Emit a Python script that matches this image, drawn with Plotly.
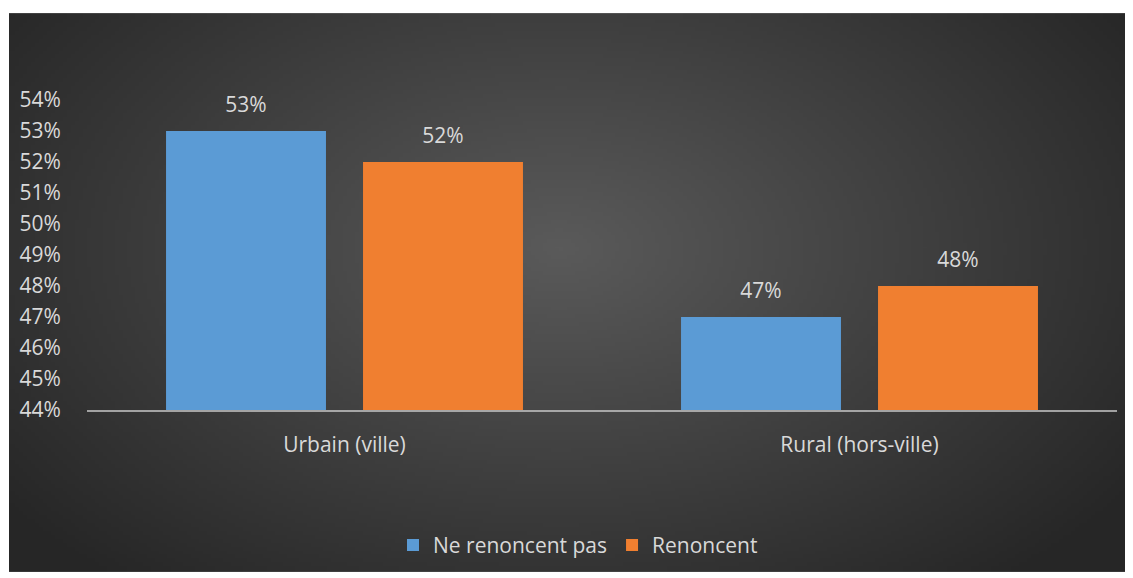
import base64, struct, zlib, math
import plotly.graph_objects as go

categories = ["Urbain (ville)", "Rural (hors-ville)"]
series_names = ["Ne renoncent pas", "Renoncent"]
ne_renoncent_pas = [53, 47]
renoncent = [52, 48]
tick_vals = [44, 45, 46, 47, 48, 49, 50, 51, 52, 53, 54]
tick_text = [f"{v}%" for v in tick_vals]
colors = ["#5b9bd5", "#f07f30"]

OFF = 8  # default page body margin
W, H = 1133 - OFF, 578 - OFF
# plot area in figure pixels
L, R, T, B = 87 - OFF, 1117 - OFF, 100 - OFF, 414 - OFF

# ---- background radial gradient as a PNG (pure python) ----
iw, ih = 281, 142
cx, cy = 0.49, 0.42
c_in, c_out = 0x5a, 0x26
rows = []
for j in range(ih):
    row = bytearray([0])
    for i in range(iw):
        dx = (i / (iw - 1) - cx) / 0.62
        dy = (j / (ih - 1) - cy) / 0.78
        d = min(1.0, math.sqrt(dx * dx + dy * dy))
        v = int(round(c_in + (c_out - c_in) * d))
        row += bytes([v, v, v])
    rows.append(bytes(row))
raw = b"".join(rows)
def chunk(t, d):
    c = struct.pack(">I", len(d)) + t + d
    return c + struct.pack(">I", zlib.crc32(t + d) & 0xffffffff)
png = b"\x89PNG\r\n\x1a\n" + chunk(b"IHDR", struct.pack(">IIBBBBB", iw, ih, 8, 2, 0, 0, 0)) \
      + chunk(b"IDAT", zlib.compress(raw, 9)) + chunk(b"IEND", b"")
src = "data:image/png;base64," + base64.b64encode(png).decode()

pw, ph = R - L, B - T
bx0, by0, bx1, by1 = 9 - OFF, 12 - OFF, 1133 - OFF, 578 - OFF

font = "'Open Sans', sans-serif"
txtc = "#d9d9d9"
fs = 21
gap = 0.235

fig = go.Figure()
for name, vals, col, grp in [(series_names[0], ne_renoncent_pas, colors[0], "a"),
                             (series_names[1], renoncent, colors[1], "b")]:
    fig.add_trace(go.Bar(x=categories, y=vals, name=name, offsetgroup=grp,
                         marker=dict(color=col, line=dict(width=0))))
for name, vals, grp in [(series_names[0], ne_renoncent_pas, "a"),
                        (series_names[1], renoncent, "b")]:
    fig.add_trace(go.Scatter(x=categories, y=vals, name=name, offsetgroup=grp,
                             mode="markers+text", showlegend=False, hoverinfo="skip",
                             marker=dict(size=21, opacity=0),
                             text=[f"{v}%" for v in vals], textposition="top center",
                             textfont=dict(color=txtc, size=fs, family=font),
                             cliponaxis=False))

fig.update_layout(
    width=W, height=H,
    margin=dict(l=L, r=W - R, t=T, b=H - B, pad=0),
    paper_bgcolor="white", plot_bgcolor="rgba(0,0,0,0)",
    barmode="group", bargap=gap, bargroupgap=0.188,
    scattermode="group", scattergap=gap,
    font=dict(family=font, color=txtc, size=fs),
    showlegend=True,
    legend=dict(orientation="h", x=(578 - 87) / pw, xanchor="center",
                y=(414 - 551) / ph, yanchor="middle",
                font=dict(size=fs, color=txtc, family=font),
                bgcolor="rgba(0,0,0,0)", itemwidth=30, tracegroupgap=0),
    images=[dict(source=src, xref="paper", yref="paper",
                 x=(bx0 - L) / pw, y=(B - by0) / ph,
                 sizex=(bx1 - bx0) / pw, sizey=(by1 - by0) / ph,
                 sizing="stretch", layer="below", xanchor="left", yanchor="top")],
)
fig.update_yaxes(range=[44, 54], tickvals=tick_vals, ticktext=tick_text,
                 showgrid=False, zeroline=False, showline=False,
                 ticks="outside", ticklen=21, tickcolor="rgba(0,0,0,0)",
                 tickfont=dict(size=fs, color=txtc, family=font))
fig.update_xaxes(showline=True, linecolor="rgba(200,200,200,0.75)", linewidth=2,
                 showgrid=False, zeroline=False,
                 ticks="outside", ticklen=15, tickcolor="rgba(0,0,0,0)",
                 tickfont=dict(size=fs, color=txtc, family=font))

fig.write_html("out.html")
